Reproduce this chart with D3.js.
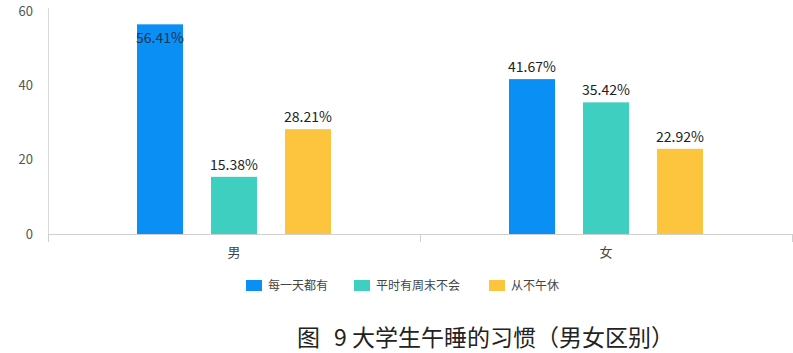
<!DOCTYPE html>
<html>
<head>
<meta charset="utf-8">
<script src="https://cdn.jsdelivr.net/npm/d3@7"></script>
<style>
  body { margin: 0; background: #fff; }
  svg { font-family: "Microsoft YaHei", "Noto Sans CJK SC", sans-serif; }
</style>
</head>
<body>
<svg id="chart" width="793" height="353"></svg>
<script>
const categories = ['男', '女'];
const seriesNames = ['每一天都有', '平时有周末不会', '从不午休'];
const seriesColors = ['#0a8ff5', '#3ecfc1', '#fdc53d'];
const maleValues = [56.41, 15.38, 28.21];
const femaleValues = [41.67, 35.42, 22.92];
const yTicks = [0, 20, 40, 60];
const titleParts = ['图', '9 大学生午睡的习惯（男女区别）'];

const values = [maleValues, femaleValues];

var svg = d3.select('#chart');
var plotLeft = 48, plotRight = 792, plotTop = 11, plotBottom = 234;
var groupSpan = 194;

var x0 = d3.scaleBand().domain(categories).range([plotLeft, plotRight]);
var x1 = d3.scaleBand().domain(seriesNames).range([0, groupSpan]).paddingInner(0.378).paddingOuter(0);
var y = d3.scaleLinear().domain([0, 60]).range([plotBottom, plotTop]);

// axes lines
svg.append('line')
  .attr('x1', plotLeft + 0.5).attr('x2', plotLeft + 0.5)
  .attr('y1', 8).attr('y2', plotBottom)
  .attr('stroke', '#d9d9d9');
svg.append('line')
  .attr('x1', plotLeft).attr('x2', plotRight)
  .attr('y1', plotBottom + 0.5).attr('y2', plotBottom + 0.5)
  .attr('stroke', '#d0d0d0');

// x ticks at band edges
var edges = [plotLeft, x0('女'), plotRight];
svg.selectAll('.xtick').data(edges).enter().append('line')
  .attr('x1', function (d) { return d + 0.5; })
  .attr('x2', function (d) { return d + 0.5; })
  .attr('y1', plotBottom).attr('y2', plotBottom + 8)
  .attr('stroke', '#d0d0d0');

// y tick labels
svg.selectAll('.ylab').data(yTicks).enter().append('text')
  .attr('x', 33).attr('y', function (d) { return y(d); })
  .attr('dy', '0.35em')
  .attr('text-anchor', 'end')
  .attr('fill', '#555')
  .style('font-size', '13px')
  .text(function (d) { return d; });

// category labels
svg.selectAll('.xlab').data(categories).enter().append('text')
  .attr('x', function (d) { return x0(d) + x0.bandwidth() / 2; })
  .attr('y', 257)
  .attr('text-anchor', 'middle')
  .attr('fill', '#444')
  .style('font-size', '13px')
  .text(function (d) { return d; });

// bars
var groups = svg.selectAll('.grp').data(categories).enter().append('g')
  .attr('transform', function (d) {
    return 'translate(' + (x0(d) + (x0.bandwidth() - groupSpan) / 2) + ',0)';
  });

groups.each(function (cat, ci) {
  var g = d3.select(this);
  var rows = seriesNames.map(function (s, i) { return { s: s, v: values[ci][i], c: seriesColors[i] }; });
  g.selectAll('rect').data(rows).enter().append('rect')
    .attr('x', function (d) { return x1(d.s); })
    .attr('y', function (d) { return y(d.v); })
    .attr('width', x1.bandwidth())
    .attr('height', function (d) { return plotBottom - y(d.v); })
    .attr('fill', function (d) { return d.c; });
  // labels go inside the bar when there is no room above it
  g.selectAll('text').data(rows).enter().append('text')
    .attr('x', function (d) { return x1(d.s) + x1.bandwidth() / 2; })
    .attr('y', function (d) { return y(d.v) > 30 ? y(d.v) - 7 : y(d.v) + 19; })
    .attr('text-anchor', 'middle')
    .attr('fill', function (d) { return y(d.v) > 30 ? '#222' : '#1c3553'; })
    .style('font-size', '14px')
    .text(function (d) { return d.v.toFixed(2) + '%'; });
});

// legend
var legendX = [246, 354, 489];
var legend = svg.selectAll('.leg').data(seriesNames).enter().append('g')
  .attr('transform', function (d, i) { return 'translate(' + legendX[i] + ',280)'; });
legend.append('rect')
  .attr('width', 16).attr('height', 11)
  .attr('fill', function (d, i) { return seriesColors[i]; });
legend.append('text')
  .attr('x', 22).attr('y', 6)
  .attr('dy', '0.35em')
  .attr('fill', '#444')
  .style('font-size', '12px')
  .text(function (d) { return d; });

// caption
var cap = svg.append('text')
  .attr('y', 346)
  .attr('fill', '#222')
  .style('font-size', '23px');
cap.append('tspan').attr('x', 297).text(titleParts[0]);
cap.append('tspan').attr('x', 334).text(titleParts[1]);
</script>
</body>
</html>
